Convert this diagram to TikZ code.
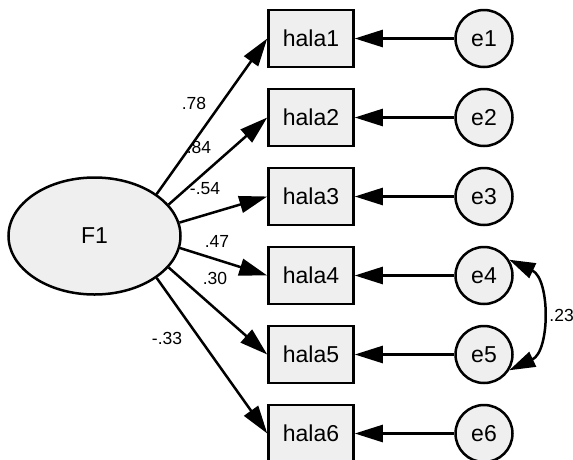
\documentclass[tikz,border=0pt]{standalone}
\usepackage{fontspec}
\setmainfont{Liberation Sans}
\usetikzlibrary{shapes.geometric,arrows.meta}
\definecolor{nodefill}{HTML}{EFEFEF}
\tikzset{
  base/.style={draw=black, line width=2.5pt, fill=nodefill, inner sep=0pt, font=\fontsize{23}{27}\selectfont},
  obs/.style={base, rectangle, minimum width=85pt, minimum height=57pt},
  err/.style={base, circle, minimum size=57pt},
  lat/.style={base, ellipse, minimum width=172pt, minimum height=117pt},
  path/.style={line width=2.5pt, -{Triangle[length=28pt,width=17pt]}},
  cov/.style={line width=2.5pt, {Triangle[length=26pt,width=16pt]}-{Triangle[length=26pt,width=16pt]}},
  lab/.style={font=\fontsize{17.5}{21}\selectfont, inner sep=0pt}
}
\begin{document}
\begin{tikzpicture}[x=1pt,y=1pt]
\useasboundingbox (0,0) rectangle (573,-459);
\node[lat] (F1) at (94.5,-236) {F1};
\foreach \i/\y in {1/38.5,2/117.5,3/196.5,4/275.5,5/354.5,6/433.5}{
  \node[obs] (h\i) at (311,-\y) {hala\i};
  \node[err] (e\i) at (484,-\y) {e\i};
  \draw[path] (e\i) -- (h\i);
}
\draw[path] (F1.34) -- (h1.west);
\draw[path] (F1.23.5) -- (h2.west);
\draw[path] (F1.9) -- (h3.west);
\draw[path] (F1.-8.5) -- (h4.west);
\draw[path] (F1.-23.5) -- (h5.west);
\draw[path] (F1.-34) -- (h6.west);
\draw[cov] (e4.32) to[out=-25,in=25,looseness=1.05] (e5.-32);
\node[lab] (l1) at (194,-103) {.78};
\node[lab] (l2) at (199,-147) {.84};
\node[lab] (l3) at (205,-189) {-.54};
\node[lab] (l4) at (217,-241) {.47};
\node[lab] (l5) at (215,-278) {.30};
\node[lab] (l6) at (167,-338) {-.33};
\node[lab, anchor=east] (l7) at (574,-315) {.23};
\end{tikzpicture}
\end{document}
